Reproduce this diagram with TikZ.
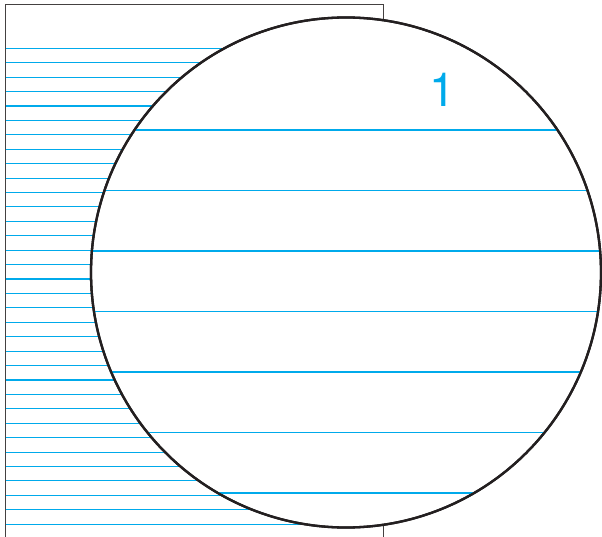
\documentclass[tikz,border=0pt]{standalone}
\usepackage{fontspec}
\setsansfont{TeX Gyre Heros}
\definecolor{linecyan}{RGB}{0,170,235}
\definecolor{inkblack}{RGB}{35,31,32}
\tikzset{
  finerule/.style={draw=linecyan,line width=1.1pt},
  bigrule/.style={draw=linecyan,line width=1.2pt},
  pageedge/.style={draw=inkblack!85,line width=0.9pt},
  lens/.style={draw=inkblack,line width=2.3pt,fill=white},
}
\begin{document}
\begin{tikzpicture}[x=1pt,y=-1pt]
\useasboundingbox (0,0) rectangle (602,537);
\clip (0,0) rectangle (602,537);
\fill[white] (0,0) rectangle (602,537);
% page
\draw[pageedge] (5,545) -- (5,4.5) -- (383,4.5) -- (383,545);
% fine rules
\foreach \i in {0,...,33}{
  \draw[finerule] (5.5,48.3+14.42*\i) -- (383,48.3+14.42*\i);
}
% magnifier
\coordinate (c) at (346,272.5);
\draw[lens] (c) circle (255);
\begin{scope}
  \clip (c) circle (254);
  \foreach \j in {0,...,6}{
    \draw[bigrule] (80,130+60.5*\j) -- (610,130+60.5*\j);
  }
\end{scope}
\draw[draw=inkblack,line width=2.3pt] (c) circle (255);
\node[text=linecyan,font=\sffamily\fontsize{47}{47}\selectfont,inner sep=0pt] (one) at (443,90) {1};
\end{tikzpicture}
\end{document}
